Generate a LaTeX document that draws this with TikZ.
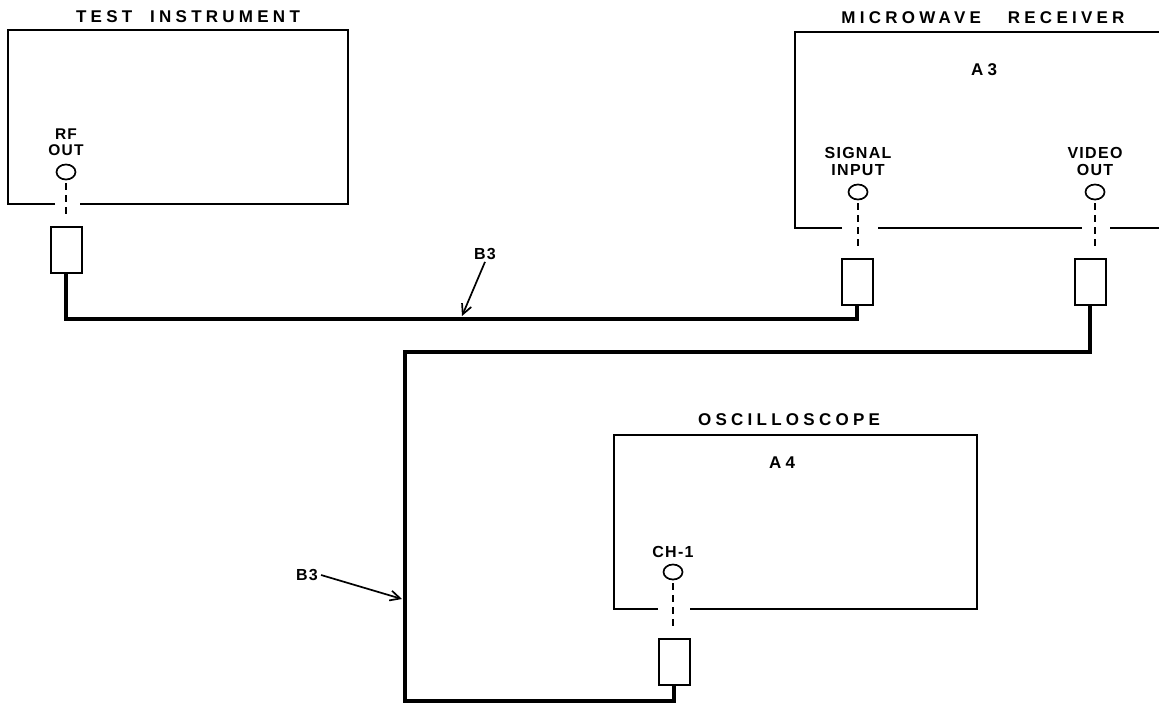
\documentclass[tikz,border=0pt]{standalone}
\usepackage{fontspec}
\usepackage{tikz}
\usetikzlibrary{arrows.meta,calc,positioning,shapes.geometric}
\newfontfamily\titlefont[LetterSpace=25]{Liberation Sans}
\newfontfamily\tagfont[LetterSpace=8]{Liberation Sans}

\begin{document}
\begin{tikzpicture}[x=1pt, y=-1pt, >={Straight Barb[length=10pt,width=10pt]},
    box/.style={line width=1.7pt},
    wire/.style={line width=4pt},
    lead/.style={line width=1.8pt, dash pattern=on 7pt off 5pt},
    pointer/.style={->, line width=1.7pt},
    jack/.style={draw, ellipse, line width=1.7pt, minimum width=19pt, minimum height=15pt, inner sep=0pt},
    plug/.style={draw, rectangle, line width=2pt, minimum width=31pt, minimum height=46pt, inner sep=0pt},
    title/.style={font=\titlefont\bfseries\fontsize{17}{17}\selectfont, inner sep=0pt},
    tag/.style={font=\tagfont\bfseries\fontsize{16}{17}\selectfont, align=center, inner sep=0pt}]
    \useasboundingbox (0,0) rectangle (1159,705);

    % Titles
    \node[title] (ti) at (188,17) {TEST\ \ INSTRUMENT};
    \node[title] (mr) at (983,18) {MICROWAVE\ \ \ RECEIVER};
    \node[title] (os) at (789,420) {OSCILLOSCOPE};

    % Instrument outlines (bottom edge left open for the leads)
    \draw[box] (55,204) -| (8,30) -| (348,204) -- (80,204);
    \draw[box] (842,228) -| (795,32) -- (1159,32);
    \draw[box] (878,228) -- (1082,228);
    \draw[box] (1110,228) -- (1159,228);
    \draw[box] (658,609) -| (614,435) -| (977,609) -- (690,609);

    % Unit designations
    \node[title] (a3) at (984,70) {A3};
    \node[title] (a4) at (782,463) {A4};

    % Jacks
    \node[jack] (rfjack) at (66,172) {};
    \node[jack] (sigjack) at (858,192) {};
    \node[jack] (vidjack) at (1095,192) {};
    \node[jack] (chjack) at (673,572) {};

    % Jack labels
    \node[tag, font=\tagfont\bfseries\fontsize{15.5}{15.5}\selectfont, above=8pt of rfjack] (rflbl) {RF\\OUT};
    \node[tag, above=8pt of sigjack] (siglbl) {SIGNAL\\INPUT};
    \node[tag, above=8pt of vidjack] (vidlbl) {VIDEO\\OUT};
    \node[tag, above=6pt of chjack] (chlbl) {CH-1};

    % Cable plugs
    \node[plug] (rfplug) at (66,250) {};
    \node[plug] (sigplug) at (857,282) {};
    \node[plug] (vidplug) at (1090,282) {};
    \node[plug] (chplug) at (674,662) {};

    % Dashed leads jack to plug
    \foreach \j/\p in {rf/rfplug, sig/sigplug, vid/vidplug, ch/chplug}
        \draw[lead] ($(\j jack.south)+(0,3)$) -- ($(\j jack.south |- \p.north)+(0,-7)$);

    % Cable B3, instrument to receiver
    \coordinate (runa) at (0,319);
    \draw[wire] (rfplug.south) -- (rfplug.south |- runa) -- (sigplug.south |- runa) -- (sigplug.south);

    % Cable B3, receiver to oscilloscope
    \coordinate (runb) at (0,352);
    \coordinate (runc) at (0,701);
    \coordinate (drop) at (405,0);
    \draw[wire] (vidplug.south) -- (vidplug.south |- runb) -- (drop |- runb)
        -- (drop |- runc) -- (chplug.south |- runc) -- (chplug.south);

    % Cable callouts
    \node[tag, inner sep=2pt] (b3top) at (485,254) {B3};
    \coordinate (b3topend) at (462,316);
    \draw[pointer] (b3top.south) -- (b3topend);

    \node[tag, inner sep=3pt] (b3low) at (307,575) {B3};
    \coordinate (b3lowend) at (402,599);
    \draw[pointer] (b3low.east) -- (b3lowend);

\end{tikzpicture}
\end{document}
